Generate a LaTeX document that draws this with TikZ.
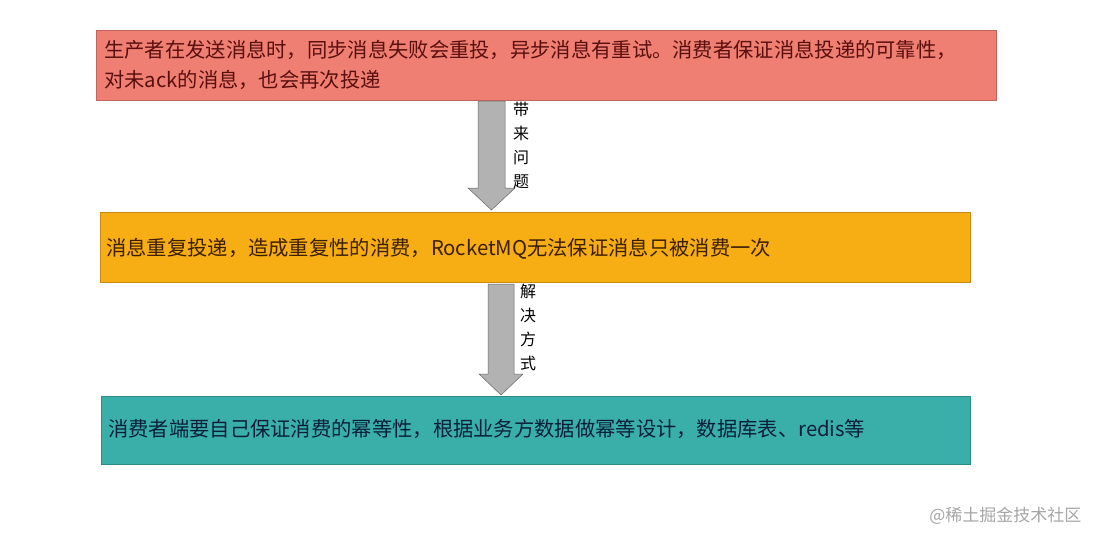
\documentclass[tikz,border=0pt]{standalone}
\usepackage{fontspec}
\newfontfamily\cjk{Noto Sans CJK SC}
\begin{document}
\begin{tikzpicture}[x=1pt,y=-1pt,
  txt/.style={anchor=west, font=\cjk\fontsize{20.3}{30}\selectfont, align=left, inner sep=0pt},
  arr/.style={fill=gray!60, draw=gray!80!black, line width=0.5pt},
  lab/.style={font=\cjk\fontsize{16}{24}\selectfont, align=center, text=black}]
\useasboundingbox (0,0) rectangle (1100,542);
\fill[white] (0,0) rectangle (1100,542);
\definecolor{c1}{HTML}{EE7F72}
\definecolor{c2}{HTML}{F7AE14}
\definecolor{c3}{HTML}{3AAFA9}
\filldraw[fill=c1, draw=c1!80!black] (96,30) rectangle (996,100);
\filldraw[fill=c2, draw=c2!80!black] (100,212) rectangle (970,282);
\filldraw[fill=c3, draw=c3!80!black] (101,396) rectangle (970,464);
\node[txt, text={rgb,255:red,90;green,15;blue,15}] (t1) at (104,65) {生产者在发送消息时，同步消息失败会重投，异步消息有重试。消费者保证消息投递的可靠性，\\对未ack的消息，也会再次投递};
\node[txt, text={rgb,255:red,60;green,30;blue,0}] (t2) at (106,249) {消息重复投递，造成重复性的消费，RocketMQ无法保证消息只被消费一次};
\node[txt, text={rgb,255:red,10;green,30;blue,60}] (t3) at (108,429) {消费者端要自己保证消费的幂等性，根据业务方数据做幂等设计，数据库表、redis等};
\draw[arr] (478,101) -- (505,101) -- (505,188) -- (515,188) -- (491.5,210) -- (468,188) -- (478,188) -- cycle;
\node[lab] (l1) at (521,145) {带\\来\\问\\题};
\draw[arr] (488,284) -- (514,284) -- (514,374) -- (523,374) -- (501,395) -- (479,374) -- (488,374) -- cycle;
\node[lab] (l2) at (528,327) {解\\决\\方\\式};
\node[font=\cjk\fontsize{17}{20}\selectfont, text=gray!70, anchor=east] (wm) at (1085,516) {@稀土掘金技术社区};
\end{tikzpicture}
\end{document}
